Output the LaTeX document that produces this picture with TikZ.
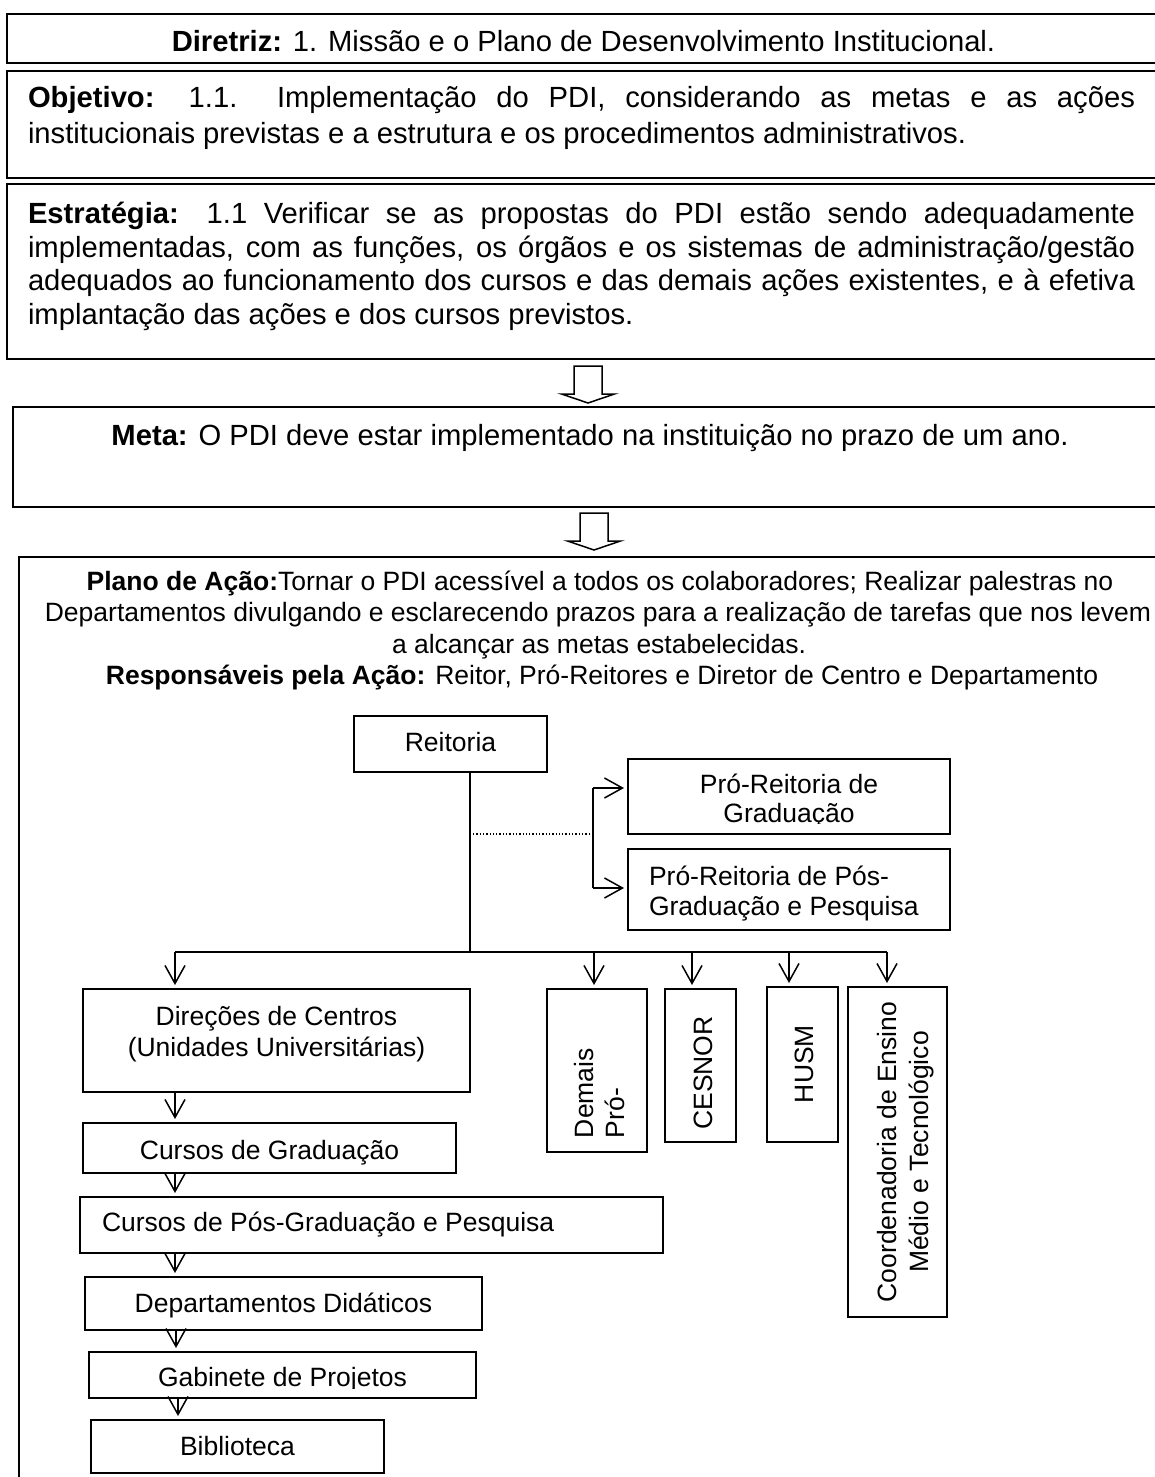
\documentclass[tikz,border=0pt]{standalone}
\usepackage{fontspec}
\setmainfont{Liberation Sans}
\usetikzlibrary{arrows.meta}

% box given by its corners: style, name, x1, y1, x2, y2
\newcommand{\mkbox}[6]{\node[#1, minimum width={(#5)-(#3)}, minimum height={(#6)-(#4)}] (#2) at ({((#3)+(#5))/2},{((#4)+(#6))/2}) {};}
% hollow block arrow hanging down from a named point
\newcommand{\blockarrow}[1]{\draw[blockarrow] (#1) ++(-14,0) -- ++(0,28) -- ++(-12.5,0) -- ++(26.5,9) -- ++(26.5,-9) -- ++(-12.5,0) -- ++(0,-28) -- cycle;}

\begin{document}
\begin{tikzpicture}[x=1pt,y=-1pt,
  font=\fontsize{26.5}{30}\selectfont,
  frame/.style={draw, line width=2.2pt, inner sep=0pt, outer sep=0pt},
  box/.style={draw, line width=1.8pt, inner sep=0pt, outer sep=0pt},
  txt/.style={inner sep=0pt, outer sep=0pt},
  big/.style={txt, font=\fontsize{29.2}{34}\selectfont},
  link/.style={line width=1.5pt},
  arr/.style={link, -{Straight Barb[length=18pt,width=20pt]}, shorten >=4pt},
  dotline/.style={line width=1.3pt, dotted},
  blockarrow/.style={line width=1.5pt, line join=miter}
]
\useasboundingbox (0,0) rectangle (1155,1477);
\clip (0,0) rectangle (1155,1477);
\fill[white] (0,0) rectangle (1155,1477);

% ---- upper frames ----
\mkbox{frame}{diretriz}{7}{14}{1165}{63}
\mkbox{frame}{objetivo}{7}{71}{1165}{178}
\mkbox{frame}{estrategia}{7}{184}{1165}{359}
\mkbox{frame}{meta}{13}{407}{1165}{507}
\mkbox{frame}{plano}{19}{557}{1175}{1495}

\node[big, anchor=base] (tdiretriz) at (583.5,52) {\textbf{Diretriz:} 1. Missão e o Plano de Desenvolvimento Institucional.};

\node[big, anchor=base west] (tobj1) at (28,108) {\makebox[1107pt][s]{\textbf{Objetivo:} 1.1.\ \ Implementação do PDI, considerando as metas e as ações}};
\node[big, anchor=base west] (tobj2) at (28,143) {institucionais previstas e a estrutura e os procedimentos administrativos.};

\node[big, anchor=base west] (test1) at (28,223) {\makebox[1107pt][s]{\textbf{Estratégia:} 1.1 Verificar se as propostas do PDI estão sendo adequadamente}};
\node[big, anchor=base west] (test2) at (28,257) {\makebox[1107pt][s]{implementadas, com as funções, os órgãos e os sistemas de administração/gestão}};
\node[big, anchor=base west] (test3) at (28,290.5) {\makebox[1107pt][s]{adequados ao funcionamento dos cursos e das demais ações existentes, e à efetiva}};
\node[big, anchor=base west] (test4) at (28,324) {implantação das ações e dos cursos previstos.};

\node[big, anchor=base] (tmeta) at (590,445) {\textbf{Meta:} O PDI deve estar implementado na instituição no prazo de um ano.};

\node[txt, anchor=base] (tplano1) at (600,590) {\textbf{Plano de Ação:}Tornar o PDI acessível a todos os colaboradores; Realizar palestras no};
\node[txt, anchor=base] (tplano2) at (598,621.5) {Departamentos divulgando e esclarecendo prazos para a realização de tarefas que nos levem};
\node[txt, anchor=base] (tplano3) at (599,653) {a alcançar as metas estabelecidas.};
\node[txt, anchor=base] (tplano4) at (602,684) {\textbf{Responsáveis pela Ação:} Reitor, Pró-Reitores e Diretor de Centro e Departamento};

% hollow arrows between the frames
\coordinate (ba1) at (588,366);
\coordinate (ba2) at (594,513);
\blockarrow{ba1}
\blockarrow{ba2}

% ---- organisation chart ----
\mkbox{box}{reitoria}{354}{716}{547}{772}
\mkbox{box}{prograd}{628}{759}{950}{834}
\mkbox{box}{propos}{628}{849}{950}{930}
\mkbox{box}{direcoes}{83}{989}{470}{1092}
\mkbox{box}{cgrad}{83}{1123}{456}{1173}
\mkbox{box}{cpos}{80}{1197}{663}{1253}
\mkbox{box}{deptos}{85}{1277}{482}{1330}
\mkbox{box}{gabinete}{89}{1352}{476}{1398}
\mkbox{box}{biblioteca}{91}{1420}{384}{1473}
\mkbox{box}{demais}{547}{989}{647}{1152}
\mkbox{box}{cesnor}{665}{989}{736}{1142}
\mkbox{box}{husm}{767}{987}{838}{1142}
\mkbox{box}{coord}{848}{987}{947}{1317}

\node[txt, anchor=base] (treitoria) at (450.5,751) {Reitoria};

\begin{scope}
  \clip (620,750) rectangle (960,823.5);
  \node[txt, anchor=base] (tprograd1) at (789,793) {Pró-Reitoria de};
  \node[txt, anchor=base] (tprograd2) at (789,822) {Graduação};
\end{scope}

\node[txt, anchor=base west] (tpropos1) at (649,885) {Pró-Reitoria de Pós-};
\node[txt, anchor=base west] (tpropos2) at (649,915) {Graduação e Pesquisa};

\node[txt, anchor=base] (tdirecoes1) at (276.5,1025) {Direções de Centros};
\node[txt, anchor=base] (tdirecoes2) at (276.5,1056.5) {(Unidades Universitárias)};
\node[txt, anchor=base] (tcgrad) at (269.5,1159.5) {Cursos de Graduação};
\node[txt, anchor=base west] (tcpos) at (102,1231.5) {Cursos de Pós-Graduação e Pesquisa};
\node[txt, anchor=base] (tdeptos) at (283.5,1312.5) {Departamentos Didáticos};
\begin{scope}
  \clip (80,1340) rectangle (480,1388);
  \node[txt, anchor=base] (tgabinete) at (282.5,1386.5) {Gabinete de Projetos};
\end{scope}
\node[txt, anchor=base] (tbiblioteca) at (237.5,1455) {Biblioteca};

\node[txt, anchor=base west, rotate=90] (tdemais1) at (593,1138) {Demais};
\node[txt, anchor=base west, rotate=90] (tdemais2) at (624,1138) {Pró-};
\node[txt, anchor=base, rotate=90] (tcesnor) at (712,1073) {CESNOR};
\node[txt, anchor=base, rotate=90] (thusm) at (813,1064) {HUSM};
\node[txt, anchor=base, rotate=90] (tcoord1) at (896,1152) {Coordenadoria de Ensino};
\node[txt, anchor=base, rotate=90] (tcoord2) at (928,1152) {Médio e Tecnológico};

% trunk, bus and branches
\coordinate (bus) at (470,952);
\coordinate (b0) at (175,952);
\coordinate (b1) at (594,952);
\coordinate (b2) at (692,952);
\coordinate (b3) at (789,952);
\coordinate (b4) at (887,952);
\draw[link] (reitoria.south -| bus) -- (bus);
\draw[link] (b0) -- (b4);
\draw[arr] (b0) -- (b0 |- direcoes.north);
\draw[arr] (b1) -- (b1 |- demais.north);
\draw[arr] (b2) -- (b2 |- cesnor.north);
\draw[arr] (b3) -- (b3 |- husm.north);
\draw[arr] (b4) -- (b4 |- coord.north);

% bracket to the two pro-rectorates, with the dotted tie to the trunk
\coordinate (kt) at (593,788);
\coordinate (kb) at (593,888);
\coordinate (dt) at (470,834);
\draw[link] (kt) -- (kb);
\draw[arr] (kt) -- (kt -| prograd.west);
\draw[arr] (kb) -- (kb -| propos.west);
\draw[dotline, shorten <=3pt, shorten >=2pt] (dt) -- (dt -| kt);

% chain down the left column
\draw[arr] (direcoes.south -| b0) -- (cgrad.north -| b0);
\draw[arr] (cgrad.south -| b0) -- (cpos.north -| b0);
\draw[arr] (cpos.south -| b0) -- (deptos.north -| b0);
\coordinate (c1) at (176,0);
\coordinate (c2) at (178,0);
\draw[arr] (deptos.south -| c1) -- (gabinete.north -| c1);
\draw[arr] (gabinete.south -| c2) -- (biblioteca.north -| c2);
\end{tikzpicture}
\end{document}
